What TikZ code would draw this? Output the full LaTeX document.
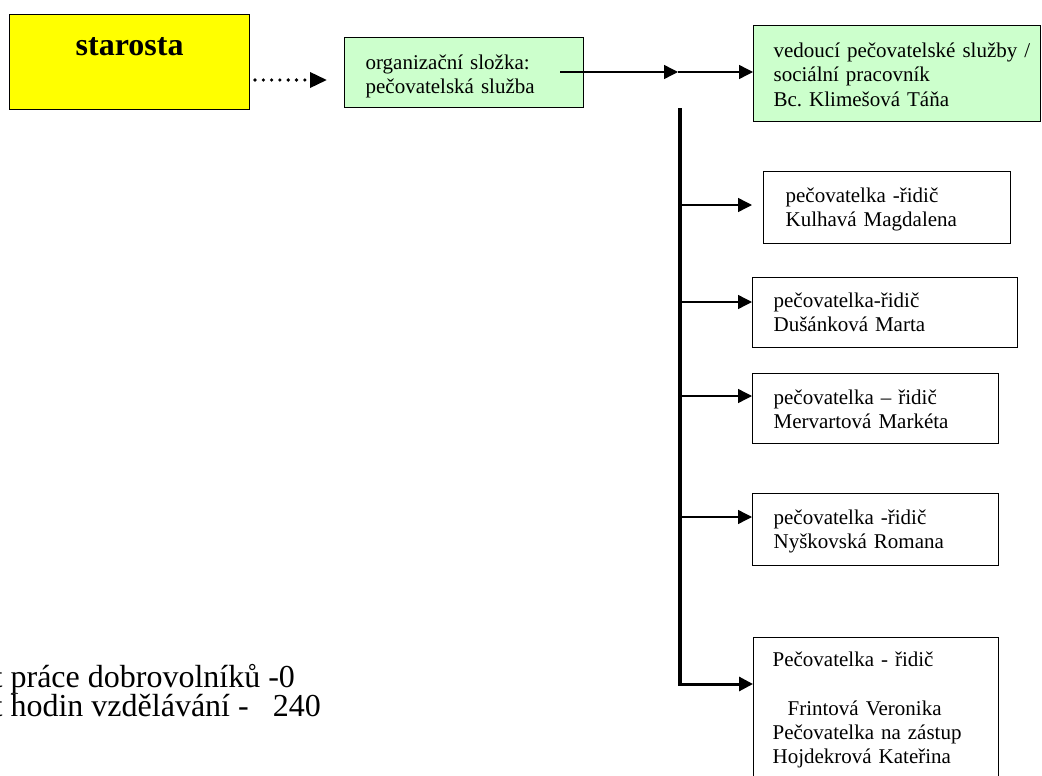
\documentclass[tikz,border=0pt]{standalone}
\usepackage{fontspec}
\setmainfont{Liberation Serif}
\usetikzlibrary{arrows.meta}
\definecolor{boxyellow}{HTML}{FFFF00}
\definecolor{boxgreen}{HTML}{CCFFCC}
\frenchspacing
\tikzset{
  orgbox/.style={draw=black, line width=1.2pt, anchor=north west, inner ysep=0pt,
    align=left, font=\fontsize{21}{24.3}\selectfont},
  arr/.style={line width=1.4pt, -{Triangle[length=14pt,width=14pt]}},
  trunkline/.style={line width=3.5pt},
  dotline/.style={line width=3.6pt, line cap=round, dash pattern=on 0pt off 8.3pt,
    -{Triangle[length=17pt,width=15pt]}},
  notetext/.style={anchor=base west, inner sep=0pt, font=\fontsize{32}{29}\selectfont}
}
\begin{document}
\begin{tikzpicture}[x=1pt,y=-1pt]
\useasboundingbox (0,0) rectangle (1042,776);

\node[draw=black, line width=1.2pt, fill=boxyellow, anchor=north west, inner sep=0pt,
  minimum width=240pt, text height=41pt, text depth=54pt,
  font=\fontsize{32}{36}\selectfont\bfseries] (starosta) at (9,14) {starosta};

\node[orgbox, fill=boxgreen, inner xsep=21pt, text width=197pt,
  text height=31.5pt, text depth=38.5pt] (org) at (344,37)
  {organizační složka:\\pečovatelská služba};

\node[orgbox, fill=boxgreen, inner xsep=20pt, text width=247pt,
  text height=32pt, text depth=63.5pt] (ved) at (753,25)
  {\mbox{vedoucí pečovatelské služby /}\\sociální pracovník\\Bc. Klimešová Táňa};

\node[orgbox, inner xsep=22pt, text width=203pt,
  text height=31pt, text depth=41pt] (kul) at (763,171)
  {pečovatelka -řidič\\Kulhavá Magdalena};

\node[orgbox, inner xsep=21pt, text width=223pt,
  text height=30pt, text depth=40pt] (dus) at (752,277)
  {pečovatelka-řidič\\Dušánková Marta};

\node[orgbox, inner xsep=21pt, text width=204pt,
  text height=30.5pt, text depth=39.5pt] (mer) at (752,373)
  {pečovatelka – řidič\\Mervartová Markéta};

\node[orgbox, inner xsep=21pt, text width=204pt,
  text height=31pt, text depth=41pt] (nys) at (752,493)
  {pečovatelka -řidič\\Nyškovská Romana};

\node[orgbox, inner xsep=19pt, text width=207pt,
  text height=29pt, text depth=125pt] (fri) at (753,637)
  {Pečovatelka - řidič\\[24.3pt]\hspace*{15pt}Frintová Veronika\\Pečovatelka na zástup\\Hojdekrová Kateřina};

% connectors
\coordinate (d1) at (255,80);
\coordinate (d2) at (327,80);
\draw[dotline] (d1) -- (d2);

\coordinate (o1) at (560,72);
\coordinate (j1) at (678,72);
\draw[arr] (o1) -- (j1);
\draw[arr] (j1) -- (ved.west |- j1);

\coordinate (t0) at (680,108);
\coordinate (t5) at (680,684);
\draw[trunkline] (t0) -- (t5);
\draw[line width=3pt, -{Triangle[length=14pt,width=14pt]}] ([xshift=-1.75pt]t5) -- (fri.west |- t5);

\coordinate (b1) at (680,205);
\coordinate (b2) at (680,302);
\coordinate (b3) at (680,396);
\coordinate (b4) at (680,517);
\draw[arr, shorten >=11pt] (b1) -- (kul.west |- b1);
\draw[arr] (b2) -- (dus.west |- b2);
\draw[arr] (b3) -- (mer.west |- b3);
\draw[arr] (b4) -- (nys.west |- b4);

\node[notetext] (n1) at (-6.5,687) {t práce dobrovolníků -0};
\node[notetext] (n2) at (-6.5,716) {t hodin vzdělávání -\hspace{24pt}240};
\end{tikzpicture}
\end{document}
